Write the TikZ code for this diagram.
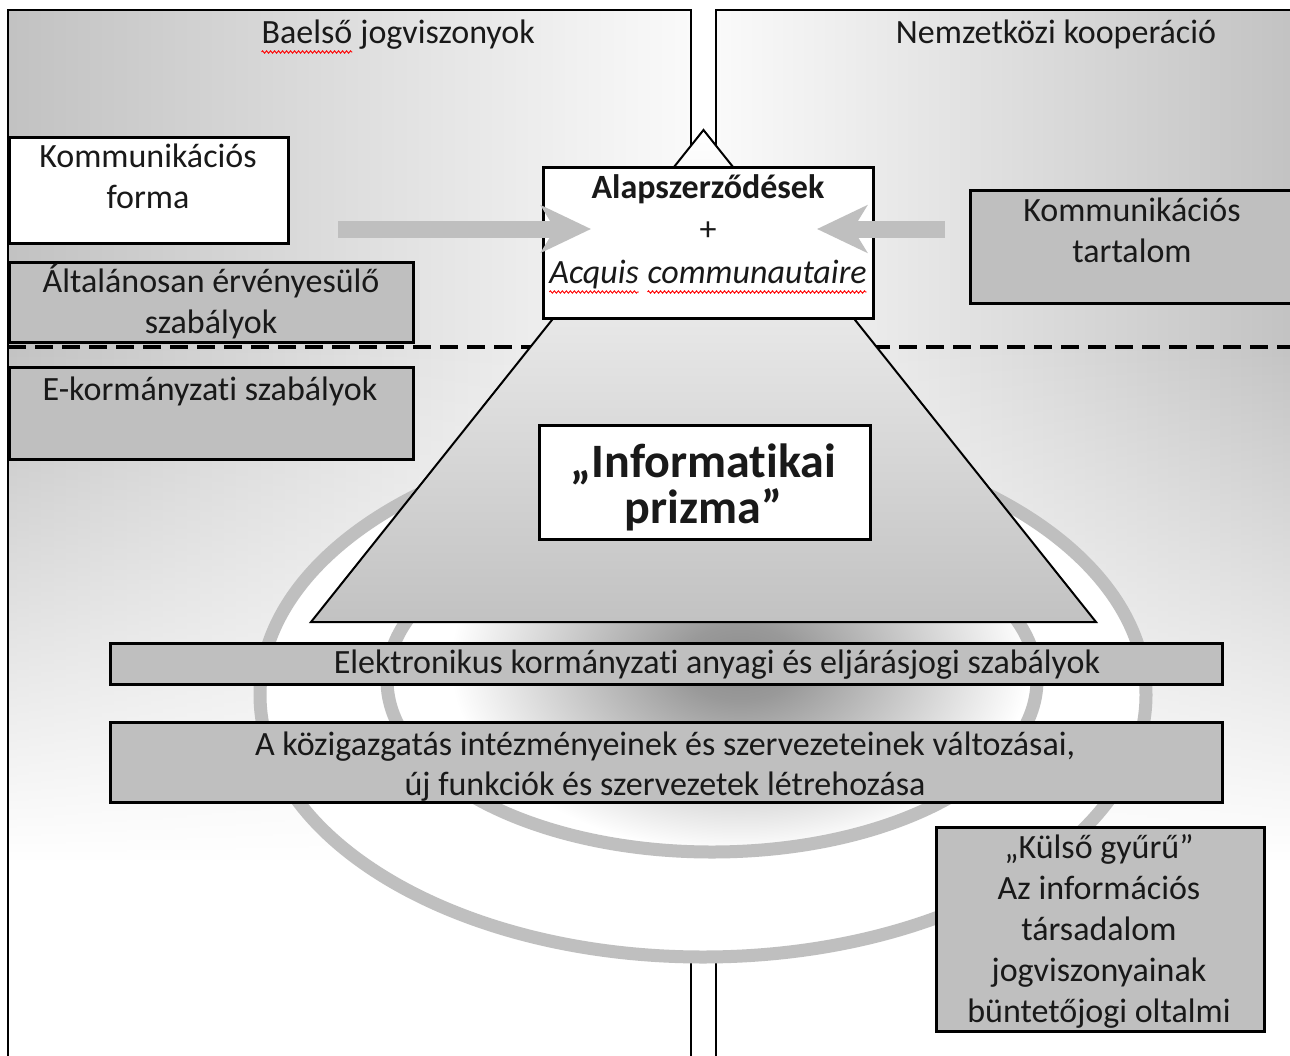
\documentclass[tikz,border=0pt]{standalone}
\usepackage{fontspec}
\setmainfont{Carlito}[Ligatures=NoCommon]
\usepackage{tikz}
\usetikzlibrary{calc, arrows.meta, fadings, decorations.pathmorphing}
\pgfdeclarelayer{background}
\pgfsetlayers{background,main}

\newcommand\spellwave[1]{\tikz[baseline=(sw.base)]{\node[inner sep=0pt, outer sep=0pt] (sw) {#1};
  \draw[red, line width=0.9pt, decorate, decoration={zigzag, segment length=4pt, amplitude=1.2pt}]
    ([yshift=-9pt]sw.base west) -- ([yshift=-9pt]sw.base east);}}

\pgfdeclareradialshading{glow}{\pgfpoint{0bp}{0bp}}{color(0bp)=(gray!90); color(5bp)=(gray!80); color(25bp)=(white); color(50bp)=(white)}

\tikzstyle{txt}        = [inner sep=0pt, outer sep=0pt, align=center, text=black!90, font=\fontsize{34}{41}\selectfont]
\tikzstyle{plate}      = [draw=black, line width=2.5pt, inner sep=0pt, anchor=north west]
\tikzstyle{greybox}    = [plate, fill=gray!50]
\tikzstyle{whitebox}   = [plate, fill=white]
\tikzstyle{ring}       = [draw=gray!50, line width=13pt]
\tikzstyle{blockarrow} = [draw=gray!50, line width=17pt, -{Stealth[length=50pt, width=47pt, inset=14pt]}]
\tikzstyle{panelline}  = [draw=black, line width=2pt]

\begin{document}
\begin{tikzpicture}[x=1pt, y=-1pt]
  \useasboundingbox (0,0) rectangle (1290,1055);
  \begin{pgfonlayer}{background}
    \shade[left color=gray!48, right color=gray!4] (8,10) rectangle (691,1060);
    \shade[left color=gray!4, right color=gray!48] (716,10) rectangle (1300,1060);
    \fill[white, path fading=north] (0,340) rectangle (1300,860);
    \fill[white] (0,860) rectangle (1300,1060);
  \end{pgfonlayer}

  % panels
  \draw[panelline] (8,1060) -- (8,10) -- (691,10) -- (691,1060);
  \draw[panelline] (716,1060) -- (716,10) -- (1300,10);
  \draw[line width=3.5pt, dash pattern=on 18pt off 9pt] (8,347) -- (1290,347);

  % rings
  \coordinate (outerc) at (703,695);
  \coordinate (innerc) at (712,680);
  \draw[ring, fill=white] (outerc) ellipse [x radius=443, y radius=262];
  \begin{scope}
    \clip (innerc) ellipse [x radius=325, y radius=172];
    \fill[white] (innerc) ellipse [x radius=325, y radius=172];
    \shade[shading=glow] (740,663) ellipse [x radius=290, y radius=190];
  \end{scope}
  \draw[ring] (innerc) ellipse [x radius=325, y radius=172];

  % prism
  \coordinate (apex) at (703.5,130);
  \coordinate (baseL) at (311,622);
  \coordinate (baseR) at (1096,622);
  \draw[line width=2pt, top color=white, bottom color=gray!48] (apex) -- (baseR) -- (baseL) -- cycle;

  % boxes
  \node[whitebox, minimum width=279pt, minimum height=106pt] (forma) at (8,136) {};
  \foreach \name/\x/\y/\w/\h in {altalanos/8/261/404/80, ekorm/8/366/404/92, tartalom/969/189/335/113,
      elektr/109/642/1112/41, kozig/109/721/1112/80, kulso/935/826/328/204}
    \node[greybox, minimum width=\w pt, minimum height=\h pt] (\name) at (\x,\y) {};
  \node[whitebox, minimum width=330pt, minimum height=151pt] (alap) at (542,166) {};
  \node[whitebox, minimum width=331pt, minimum height=114pt] (prizma) at (538,424) {};

  % arrows
  \coordinate (formatail) at (338,229);
  \coordinate (formatip) at (591,229);
  \coordinate (tartalomtail) at (945,229);
  \coordinate (tartalomtip) at (817,229);
  \draw[blockarrow] (formatail) -- (formatip);
  \draw[blockarrow] (tartalomtail) -- (tartalomtip);

  % texts (base = last line)
  \node[txt, anchor=base] (baelsotxt) at (398,43) {\spellwave{Baelső} jogviszonyok};
  \node[txt, anchor=base] (nemzettxt) at (1056,43) {Nemzetközi kooperáció};
  \node[txt, anchor=base] (formatxt) at (148,208) {Kommunikációs\\forma};
  \node[txt, anchor=base] (altalanostxt) at (211,333) {Általánosan érvényesülő\\szabályok};
  \node[txt, anchor=base] (ekormtxt) at (210,400) {E-kormányzati szabályok};
  \node[txt, anchor=base] (tartalomtxt) at (1132,262) {Kommunikációs\\tartalom};
  \node[txt, anchor=base, font=\fontsize{34}{42.5}\selectfont] (alaptxt) at (708,283)
    {\textbf{Alapszerződések}\\+\\\textit{\spellwave{Acquis} \spellwave{communautaire}}};
  \node[txt, anchor=base, font=\bfseries\fontsize{48}{46}\selectfont] (prizmatxt) at (703.5,523) {„Informatikai\\prizma”};
  \node[txt, anchor=base] (elektrtxt) at (717,673) {Elektronikus kormányzati anyagi és eljárásjogi szabályok};
  \node[txt, anchor=base, font=\fontsize{34}{40}\selectfont] (koziguxt) at (665,795)
    {A közigazgatás intézményeinek és szervezeteinek változásai,\\új funkciók és szervezetek létrehozása};
  \node[txt, anchor=base] (kulsotxt) at (1099,1022) {„Külső gyűrű”\\Az információs\\társadalom\\jogviszonyainak\\büntetőjogi oltalmi};
\end{tikzpicture}
\end{document}
